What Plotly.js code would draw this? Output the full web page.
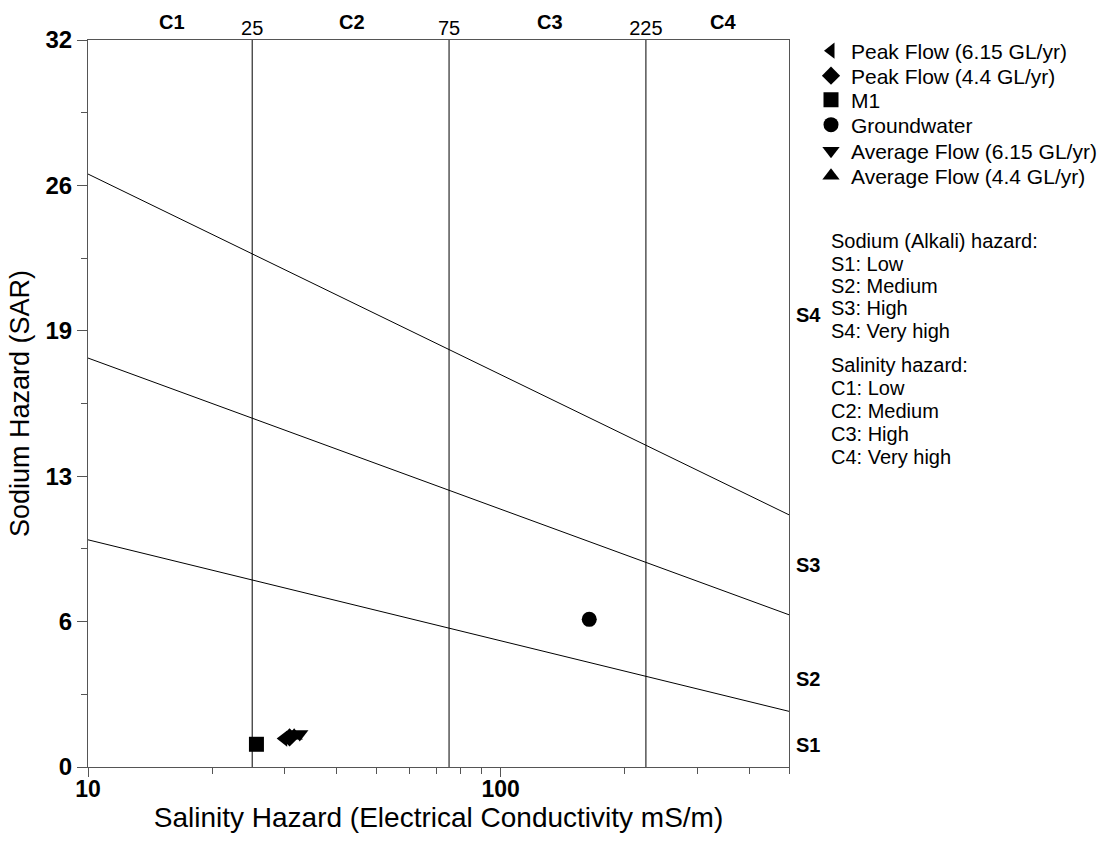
<!DOCTYPE html>
<html>
<head>
<meta charset="utf-8">
<script src="https://cdn.plot.ly/plotly-3.0.1.min.js"></script>
<style>
  html, body { margin: 0; padding: 0; background: #fff; }
  #chart { width: 1111px; height: 845px; }
</style>
</head>
<body>
<div id="chart"></div>
<script>
// Sample points: electrical conductivity (mS/m) and sodium adsorption ratio
const sampleNames = [
  "Peak Flow (6.15 GL/yr)",
  "Peak Flow (4.4 GL/yr)",
  "M1",
  "Groundwater",
  "Average Flow (6.15 GL/yr)",
  "Average Flow (4.4 GL/yr)"
];
const sampleEC  = [29.8, 30.8, 25.6, 164, 32.6, 31.6];
const sampleSAR = [1.25, 1.30, 1.00, 6.5, 1.45, 1.38];
const sampleSymbols = ["triangle-left", "diamond", "square", "circle", "triangle-down", "triangle-up"];
const sampleSizes = [14, 14, 15, 15, 15, 15];

// Sodium hazard class boundaries (SAR at EC = 10 and EC = 500 mS/m)
const boundaryEC = [10, 500];
const boundaryS1S2 = [10.0, 2.45];
const boundaryS2S3 = [18.0, 6.7];
const boundaryS3S4 = [26.1, 11.1];

// Salinity hazard class boundaries (mS/m)
const salinityBounds = [25, 75, 225];
const salinityLabels = ["C1", "C2", "C3", "C4"];
const salinityLabelEC = [16.0, 43.7, 131.5, 345];
const sodiumLabels = ["S1", "S2", "S3", "S4"];
const sodiumLabelSAR = [0.97, 3.87, 8.9, 19.9];

const yTicks = [0, 6.4, 12.8, 19.2, 25.6, 32];
const yRange = [0, 32];
const xMinorTicks = [20, 30, 40, 50, 60, 70, 80, 90, 200, 300, 400, 500];

const FONT = "Liberation Sans, Arial, sans-serif";
const AXIS = "#555555";

const traces = [];

// Sodium boundaries
[boundaryS1S2, boundaryS2S3, boundaryS3S4].forEach(function (ys) {
  traces.push({
    x: boundaryEC, y: ys, xaxis: "x", yaxis: "y",
    mode: "lines", line: { color: "#000", width: 1 },
    showlegend: false, hoverinfo: "skip"
  });
});

// Salinity boundaries (vertical lines on the top axis)
salinityBounds.forEach(function (ec) {
  traces.push({
    x: [ec, ec], y: yRange, xaxis: "x2", yaxis: "y",
    mode: "lines", line: { color: "#000", width: 1 },
    showlegend: false, hoverinfo: "skip"
  });
});

// Each sample series gets its own legend so entries can be spaced freely
const legendRowsPx = [51, 76, 100, 125, 151, 176];
const legendLayouts = {};
sampleNames.forEach(function (name, i) {
  const key = i === 0 ? "legend" : "legend" + (i + 1);
  traces.push({
    x: [sampleEC[i]], y: [sampleSAR[i]],
    xaxis: "x", yaxis: "y",
    name: name, mode: "markers",
    marker: { symbol: sampleSymbols[i], size: sampleSizes[i], color: "#000" },
    legend: key, showlegend: true
  });
  legendLayouts[key] = {
    x: (811 - 88) / 701, xanchor: "left",
    y: (767 - legendRowsPx[i]) / 727, yanchor: "middle",
    bgcolor: "rgba(0,0,0,0)", borderwidth: 0,
    font: { family: FONT, size: 21, color: "#000" },
    itemwidth: 30
  };
});

const annotations = [];
salinityLabels.forEach(function (t, i) {
  annotations.push({
    text: "<b>" + t + "</b>", xref: "x", yref: "paper",
    x: Math.log10(salinityLabelEC[i]), y: (767 - 22) / 727,
    showarrow: false, xanchor: "center", yanchor: "middle",
    font: { family: FONT, size: 20, color: "#000" }
  });
});
sodiumLabels.forEach(function (t, i) {
  annotations.push({
    text: "<b>" + t + "</b>", xref: "paper", yref: "y",
    x: (808 - 88) / 701, y: sodiumLabelSAR[i],
    showarrow: false, xanchor: "center", yanchor: "middle",
    font: { family: FONT, size: 20, color: "#000" }
  });
});

const notes = [
  ["Sodium (Alkali) hazard:", 241],
  ["S1: Low", 264],
  ["S2: Medium", 286],
  ["S3: High", 308],
  ["S4: Very high", 331],
  ["Salinity hazard:", 365],
  ["C1: Low", 388],
  ["C2: Medium", 411],
  ["C3: High", 434],
  ["C4: Very high", 457]
];
notes.forEach(function (n) {
  annotations.push({
    text: n[0], xref: "paper", yref: "paper",
    x: (829 - 88) / 701, y: (767 - n[1]) / 727,
    showarrow: false, xanchor: "left", yanchor: "middle",
    font: { family: FONT, size: 20, color: "#000" }
  });
});

const layout = Object.assign({
  width: 1111, height: 845,
  margin: { l: 88, r: 322, t: 40, b: 78, autoexpand: false },
  paper_bgcolor: "#fff", plot_bgcolor: "#fff",
  font: { family: FONT, color: "#000" },
  xaxis: {
    type: "log", range: [1, Math.log10(500)],
    tickmode: "array", tickvals: [10, 100], ticktext: ["10", "100"],
    ticks: "outside", ticklen: 9, tickwidth: 1, tickcolor: AXIS,
    ticklabelstandoff: -8,
    minor: { tickmode: "array", tickvals: xMinorTicks, ticks: "outside", ticklen: 6, tickcolor: AXIS, showgrid: false },
    showline: true, linecolor: AXIS, linewidth: 1, mirror: true,
    showgrid: false, zeroline: false,
    tickfont: { family: FONT, size: 23, color: "#000", weight: "bold" },
    title: { text: "Salinity Hazard (Electrical Conductivity mS/m)", font: { family: FONT, size: 28, color: "#000" }, standoff: 0 }
  },
  xaxis2: {
    type: "log", range: [1, Math.log10(500)], overlaying: "x", side: "top",
    tickmode: "array", tickvals: salinityBounds, ticktext: salinityBounds.map(String),
    ticks: "", showline: false, showgrid: false, zeroline: false,
    tickfont: { family: FONT, size: 20, color: "#000" }
  },
  yaxis: {
    range: yRange,
    tickmode: "array", tickvals: yTicks, ticktext: yTicks.map(function (v) { return String(Math.round(v)); }),
    ticks: "outside", ticklen: 10, tickwidth: 1, tickcolor: AXIS,
    minor: { tick0: 0, dtick: 3.2, ticks: "outside", ticklen: 6, tickcolor: AXIS, showgrid: false },
    showline: true, linecolor: AXIS, linewidth: 1, mirror: true,
    showgrid: false, zeroline: false,
    tickfont: { family: FONT, size: 24, color: "#000", weight: "bold" },
    title: { text: "Sodium Hazard (SAR)", font: { family: FONT, size: 27, color: "#000" }, standoff: 8 }
  },
  annotations: annotations,
  showlegend: true
}, legendLayouts);

Plotly.newPlot("chart", traces, layout, { displayModeBar: false, staticPlot: true });
</script>
</body>
</html>
